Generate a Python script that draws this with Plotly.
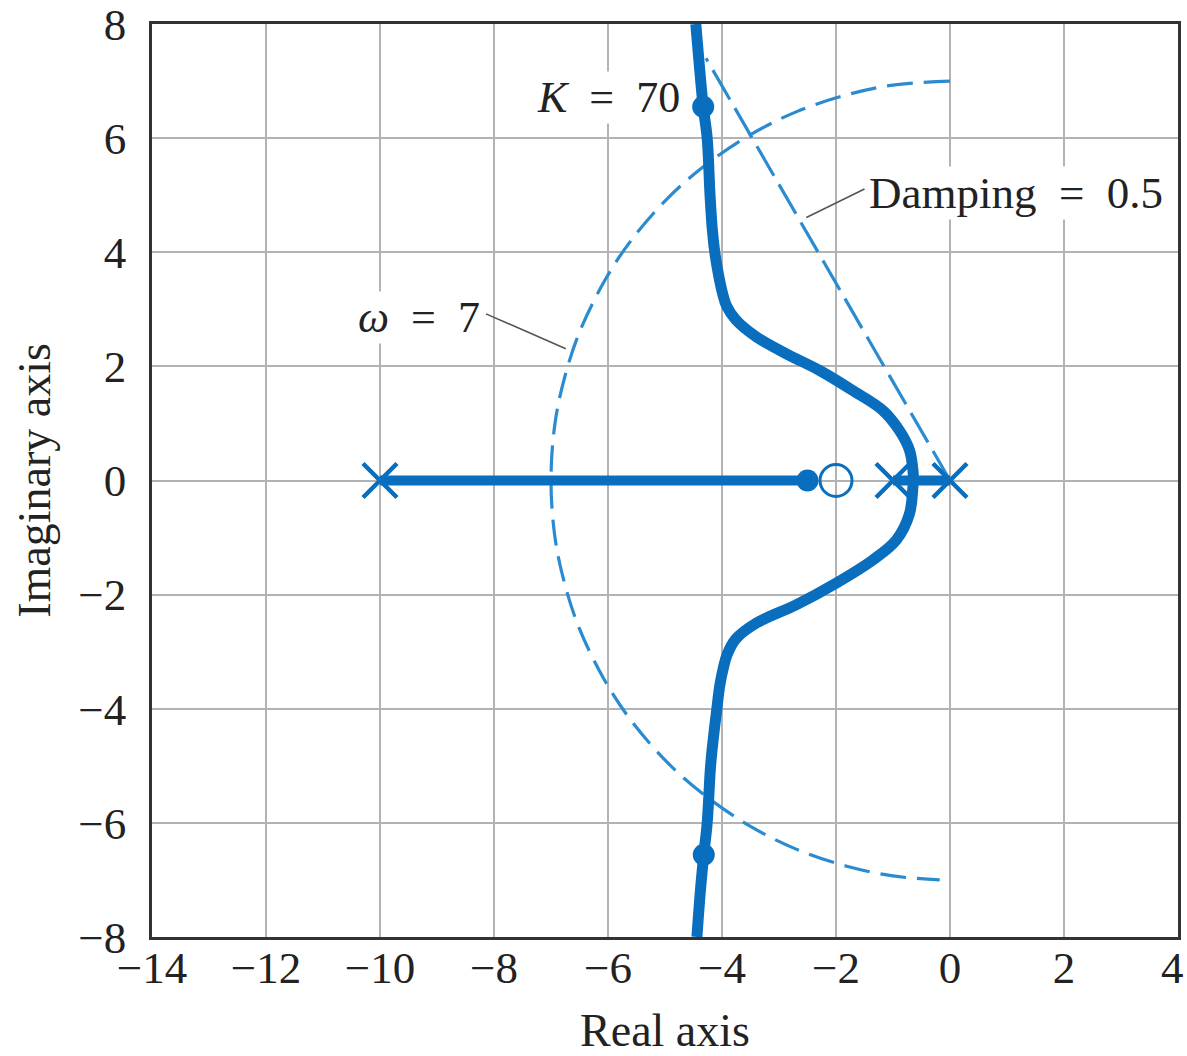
import plotly.graph_objects as go

# ---- data ----
# upper complex branch of the locus (breakaway -> top)
up_x = [-0.64, -0.65, -0.71, -0.89, -1.18, -1.71, -2.29, -2.87, -3.40, -3.76, -3.92, -3.99, -4.06, -4.12, -4.17, -4.21, -4.26, -4.33, -4.40, -4.46]
up_y = [0.0, 0.18, 0.53, 0.88, 1.23, 1.58, 1.93, 2.22, 2.52, 2.82, 3.06, 3.28, 3.6, 3.95, 4.4, 5.0, 6.0, 6.55, 7.3, 8.0]
# lower complex branch
lo_x = [-0.64, -0.65, -0.71, -0.94, -1.35, -2.00, -2.70, -3.40, -3.76, -3.91, -3.98, -4.04, -4.09, -4.15, -4.20, -4.26, -4.32, -4.38, -4.44]
lo_y = [0.0, -0.11, -0.58, -1.04, -1.39, -1.80, -2.18, -2.50, -2.78, -3.05, -3.3, -3.6, -4.0, -4.5, -5.0, -6.0, -6.56, -7.2, -8.0]
# real-axis segments of the locus
seg1_x = [-10.0, -2.5]
seg2_x = [-1.0, 0.0]
# open-loop poles and zero
pole_x = [-10.0, -1.0, 0.0]
zero_x = [-2.0]
# closed-loop roots at K = 70
k70_x = [-2.5, -4.33, -4.32]
k70_y = [0.0, 6.55, -6.56]
# omega = 7 arc (dashed)
arc_x = [0.0, -1.0, -1.81, -2.7, -3.5, -4.3, -4.95, -5.6, -6.06, -6.5, -6.76, -6.93, -7.0,
         -6.93, -6.76, -6.5, -6.06, -5.6, -4.95, -4.3, -3.5, -2.7, -1.81, -1.0, -0.18]
arc_y = [7.0, 6.93, 6.76, 6.46, 6.06, 5.52, 4.95, 4.2, 3.5, 2.6, 1.81, 1.0, 0.0,
         -1.0, -1.81, -2.6, -3.5, -4.2, -4.95, -5.52, -6.06, -6.46, -6.76, -6.93, -7.0]
# damping = 0.5 line (dashed)
damp_x = [0.0, -4.28]
damp_y = [0.0, 7.4]
# axis ticks (the last x label, at the right edge, is placed as an annotation so it stays inside the page)
x_ticks = [-14, -12, -10, -8, -6, -4, -2, 0, 2, 4]
x_ticktext = ["\u221214", "\u221212", "\u221210", "\u22128", "\u22126", "\u22124", "\u22122", "0", "2", ""]
x_edge_label = "4"
y_ticks = [-8, -6, -4, -2, 0, 2, 4, 6, 8]
y_ticktext = ["\u22128", "\u22126", "\u22124", "\u22122", "0", "2", "4", "6", "8"]

LOC = "#0a6ebe"
DASH = "#2b8bd0"
FONT = "Liberation Serif"
TXT = "#222222"

fig = go.Figure()
fig.add_trace(go.Scatter(x=arc_x, y=arc_y, mode="lines", line=dict(color=DASH, width=3.2, dash="26px,11px", shape="spline")))
fig.add_trace(go.Scatter(x=damp_x, y=damp_y, mode="lines", line=dict(color=DASH, width=3.2, dash="34px,10px")))
for xs, ys in [(up_x, up_y), (lo_x, lo_y)]:
    fig.add_trace(go.Scatter(x=xs, y=ys, mode="lines", line=dict(color=LOC, width=11, shape="spline", smoothing=1.0)))
fig.add_trace(go.Scatter(x=seg1_x, y=[0] * len(seg1_x), mode="lines", line=dict(color=LOC, width=10)))
fig.add_trace(go.Scatter(x=seg2_x, y=[0] * len(seg2_x), mode="lines", line=dict(color=LOC, width=10)))
fig.add_trace(go.Scatter(x=pole_x, y=[0] * len(pole_x), mode="markers",
                         marker=dict(symbol="x-thin", size=34, line=dict(color=LOC, width=4.5))))
fig.add_trace(go.Scatter(x=zero_x, y=[0], mode="markers",
                         marker=dict(symbol="circle-open", size=32, color=LOC, line=dict(color=LOC, width=3))))
fig.add_trace(go.Scatter(x=k70_x, y=k70_y, mode="markers",
                         marker=dict(symbol="circle", size=22, color=LOC)))

# leader lines
fig.add_shape(type="line", x0=-8.14, y0=2.92, x1=-6.74, y1=2.31, line=dict(color="#555555", width=1.6))
fig.add_shape(type="line", x0=-2.52, y0=4.61, x1=-1.50, y1=5.11, line=dict(color="#555555", width=1.6))

ann_font = dict(family=FONT, size=44, color=TXT)
fig.add_annotation(x=-5.99, y=6.72, text="<i>K</i>\u2002=\u200270", showarrow=False, font=ann_font,
                   bgcolor="white", xanchor="center", yanchor="middle")
fig.add_annotation(x=-9.32, y=2.86, text="<i>\u03c9</i>\u2002=\u20027", showarrow=False, font=ann_font,
                   bgcolor="white", xanchor="center", yanchor="middle")
fig.add_annotation(x=-1.45, y=5.03, text="Damping\u2002=\u20020.5", showarrow=False,
                   font=dict(family=FONT, size=45, color=TXT),
                   bgcolor="white", xanchor="left", yanchor="middle")
fig.add_annotation(x=x_ticks[-1], y=0, xref="x", yref="paper", text=x_edge_label, showarrow=False,
                   font=dict(family=FONT, size=45, color=TXT), xanchor="center", yanchor="middle",
                   xshift=-6, yshift=-31)

axis_common = dict(showgrid=True, gridcolor="#b3b3b3", gridwidth=2, zeroline=False,
                   showline=True, mirror=True, linecolor="#333333", linewidth=2.5,
                   automargin=False,
                   ticks="", ticklabeloverflow="allow", tickfont=dict(family=FONT, size=45, color=TXT))
fig.update_xaxes(range=[-14, 4], tickvals=x_ticks, ticktext=x_ticktext,
                 title=dict(text="Real axis", font=dict(family=FONT, size=46, color=TXT), standoff=24),
                 ticklabelstandoff=-11, **axis_common)
fig.update_yaxes(range=[-8, 8], tickvals=y_ticks, ticktext=y_ticktext,
                 title=dict(text="Imaginary axis", font=dict(family=FONT, size=46, color=TXT), standoff=14),
                 ticklabelstandoff=14, **axis_common)

fig.update_layout(width=1187, height=1056, showlegend=False,
                  margin=dict(l=152, r=9, t=24, b=119),
                  plot_bgcolor="white", paper_bgcolor="white")
fig.write_html("out.html")
